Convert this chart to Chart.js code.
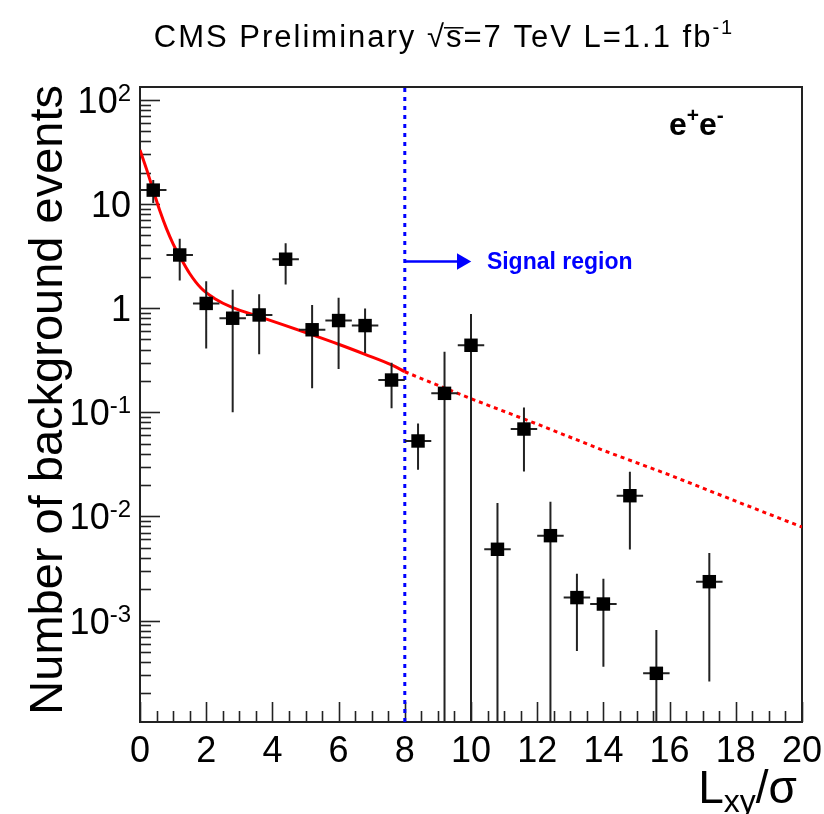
<!DOCTYPE html>
<html><head><meta charset="utf-8">
<script src="https://cdn.jsdelivr.net/npm/chart.js@4/dist/chart.umd.min.js"></script>
<style>html,body{margin:0;padding:0;background:#fff;}</style>
</head><body>
<canvas id="c" width="824" height="814"></canvas>
<script>
// ---- data ----
const binCenters = [0.4,1.2,2.0,2.8,3.6,4.4,5.2,6.0,6.8,7.6,8.4,9.2,10.0,10.8,11.6,12.4,13.2,14.0,14.8,15.6,17.2];
const events = [13.6,3.24,1.11,0.80,0.86,2.95,0.62,0.76,0.68,0.204,0.053,0.152,0.44,0.00483,0.069,0.00653,0.00166,0.00144,0.0158,0.000311,0.00236];
const eventErrors = [3.4,1.4,0.7,0.7,0.5,1.26,0.45,0.5,0.31,0.095,0.025,0.23,0.44,0.0086,0.042,0.0073,0.00115,0.00108,0.011,0.0005,0.0021];
const binHalfWidth = 0.4;
const fitX = [0,0.2,0.4,0.6,0.8,1.0,1.2,1.5,1.85,2.25,2.8,3.6,4.4,5.2,6.0,6.8,7.6,8];
const fitY = [33,21.5,13.5,8.6,5.8,4.15,3.15,2.15,1.55,1.24,1.01,0.83,0.68,0.555,0.45,0.36,0.285,0.245];
const extrapX = [8,10,12,14,16,18,20];
const extrapY = [0.245,0.135,0.077,0.043,0.025,0.014,0.0079];
const xTickLabels = [0,2,4,6,8,10,12,14,16,18,20];
const yDecades = [-3,-2,-1,0,1,2];
const xRange = [0,20];
const yRange = [1.06e-4,133];
const signalCut = 8;
const arrowY = 2.8;
const arrowLineEnd = 9.7;
const arrowHeadX = 9.72;
const signalLabelX = 10.48;

// ---- build datasets ----
const markerData = binCenters.map((x,i)=>({x, y: events[i]}));
const errData = [];
binCenters.forEach((x,i)=>{
  const lo = events[i]-eventErrors[i];
  errData.push({x, y: lo > yRange[0] ? lo : yRange[0]});
  errData.push({x, y: events[i]+eventErrors[i]});
  errData.push({x, y: null});
  errData.push({x: x-binHalfWidth, y: events[i]});
  errData.push({x: x+binHalfWidth, y: events[i]});
  errData.push({x: x+binHalfWidth, y: null});
});
const fitData = fitX.map((x,i)=>({x, y: fitY[i]}));
const extrapData = extrapX.map((x,i)=>({x, y: extrapY[i]}));
const cutData = [{x: signalCut, y: yRange[0]}, {x: signalCut, y: yRange[1]}];
const arrowData = [{x: signalCut, y: arrowY}, {x: arrowLineEnd, y: arrowY}];
const arrowHead = [{x: arrowHeadX, y: arrowY}];

const FONT = '"Liberation Sans", Arial, Helvetica, sans-serif';

function drawRich(ctx, parts, x, y, align, spacing) {
  ctx.save();
  if (spacing && 'letterSpacing' in ctx) ctx.letterSpacing = spacing + 'px';
  let total = 0;
  parts.forEach(p=>{ ctx.font = (p.bold?'bold ':'') + p.size + 'px ' + FONT; p.w = ctx.measureText(p.t).width; total += p.w; });
  let cx = align==='right' ? x-total : align==='center' ? x-total/2 : x;
  ctx.textAlign = 'left';
  ctx.textBaseline = 'alphabetic';
  parts.forEach(p=>{
    ctx.font = (p.bold?'bold ':'') + p.size + 'px ' + FONT;
    ctx.fillText(p.t, cx, y + (p.dy||0));
    if (p.over) {
      ctx.lineWidth = 1.5; ctx.strokeStyle = ctx.fillStyle;
      ctx.beginPath(); ctx.moveTo(cx-2, y - p.size*0.62); ctx.lineTo(cx+p.w, y - p.size*0.62); ctx.stroke();
    }
    cx += p.w;
  });
  ctx.restore();
}

const rootAxes = {
  id: 'rootAxes',
  beforeDatasetsDraw(chart) {
    const {ctx, chartArea: a, scales: {x, y}} = chart;
    ctx.save();
    ctx.strokeStyle = '#222';
    ctx.lineWidth = 1.6;
    for (let v = xRange[0]; v <= xRange[1] + 1e-9; v += 0.5) {
      const px = Math.round(x.getPixelForValue(v)) + 0.5;
      const len = (Math.abs(v/2 - Math.round(v/2)) < 1e-9) ? 20 : 11;
      ctx.beginPath(); ctx.moveTo(px, a.bottom); ctx.lineTo(px, a.bottom - len); ctx.stroke();
    }
    for (let d = -4; d <= 2; d++) {
      for (let m = 1; m <= 9; m++) {
        const v = m * Math.pow(10, d);
        if (v < yRange[0] || v > yRange[1]) continue;
        const py = Math.round(y.getPixelForValue(v)) + 0.5;
        const len = m === 1 ? 20 : 11;
        ctx.beginPath(); ctx.moveTo(a.left, py); ctx.lineTo(a.left + len, py); ctx.stroke();
      }
    }
    ctx.lineWidth = 2;
    ctx.strokeRect(a.left, a.top, a.right - a.left, a.bottom - a.top);
    ctx.restore();
  },
  afterDraw(chart) {
    const {ctx, chartArea: a, scales: {x, y}} = chart;
    ctx.save();
    ctx.fillStyle = '#000';
    ctx.font = '36px ' + FONT;
    ctx.textAlign = 'center'; ctx.textBaseline = 'alphabetic';
    xTickLabels.forEach(v => ctx.fillText(String(v), x.getPixelForValue(v), a.bottom + 40));
    yDecades.forEach(d => {
      const py = y.getPixelForValue(Math.pow(10, d));
      let parts;
      if (d === 0) parts = [{t:'1', size:36}];
      else if (d === 1) parts = [{t:'10', size:36}];
      else parts = [{t:'10', size:36}, {t:String(d), size:24, dy:-12}];
      drawRich(ctx, parts, a.left - 9, py + 13, 'right');
    });
    drawRich(ctx, [
      {t:'CMS Preliminary ', size:31},
      {t:'\u221A', size:31},
      {t:'s', size:31, over:true},
      {t:'=7 TeV L=1.1 fb', size:31},
      {t:'-1', size:20, dy:-13}
    ], 444, 47, 'center', 2);
    drawRich(ctx, [
      {t:'L', size:46},
      {t:'xy', size:32, dy:9},
      {t:'/\u03C3', size:46}
    ], 797, 803, 'right');
    ctx.save();
    ctx.translate(62, 85);
    ctx.rotate(-Math.PI/2);
    ctx.font = '47px ' + FONT;
    ctx.textAlign = 'right'; ctx.textBaseline = 'alphabetic';
    ctx.fillText('Number of background events', 0, 0);
    ctx.restore();
    drawRich(ctx, [
      {t:'e', size:32, bold:true},
      {t:'+', size:21, bold:true, dy:-13},
      {t:'e', size:32, bold:true},
      {t:'-', size:21, bold:true, dy:-13}
    ], 669, 135, 'left');
    ctx.fillStyle = '#0000ff';
    ctx.font = 'bold 23px ' + FONT;
    ctx.textAlign = 'left'; ctx.textBaseline = 'middle';
    ctx.fillText('Signal region', x.getPixelForValue(signalLabelX), y.getPixelForValue(arrowY) + 1);
    ctx.restore();
  }
};

new Chart(document.getElementById('c'), {
  type: 'line',
  data: {
    datasets: [
      {label:'data', data: markerData, showLine:false, pointStyle:'rect', pointRadius:9.5, pointBackgroundColor:'#000', pointBorderWidth:0, borderColor:'#000'},
      {label:'errors', data: errData, borderColor:'#222', borderWidth:2, pointRadius:0, spanGaps:false, fill:false},
      {label:'fit', data: fitData, borderColor:'#ff0000', borderWidth:3, pointRadius:0, cubicInterpolationMode:'monotone', fill:false},
      {label:'extrapolation', data: extrapData, borderColor:'#ff0000', borderWidth:3, borderDash:[4,4], pointRadius:0, fill:false},
      {label:'cut', data: cutData, borderColor:'#0000ff', borderWidth:3, borderDash:[4,5], pointRadius:0, fill:false},
      {label:'arrow', data: arrowData, borderColor:'#0000ff', borderWidth:2.5, pointRadius:0, fill:false},
      {label:'arrowhead', data: arrowHead, showLine:false, pointStyle:'triangle', pointRotation:90, pointRadius:9.5, pointBackgroundColor:'#0000ff', pointBorderWidth:0}
    ]
  },
  options: {
    responsive:false, animation:false, devicePixelRatio:1,
    layout:{padding:{left:140, right:22, top:87, bottom:92}},
    scales:{
      x:{type:'linear', min:xRange[0], max:xRange[1], display:false},
      y:{type:'logarithmic', min:yRange[0], max:yRange[1], display:false}
    },
    plugins:{legend:{display:false}, tooltip:{enabled:false}}
  },
  plugins:[rootAxes]
});
</script>
</body></html>
